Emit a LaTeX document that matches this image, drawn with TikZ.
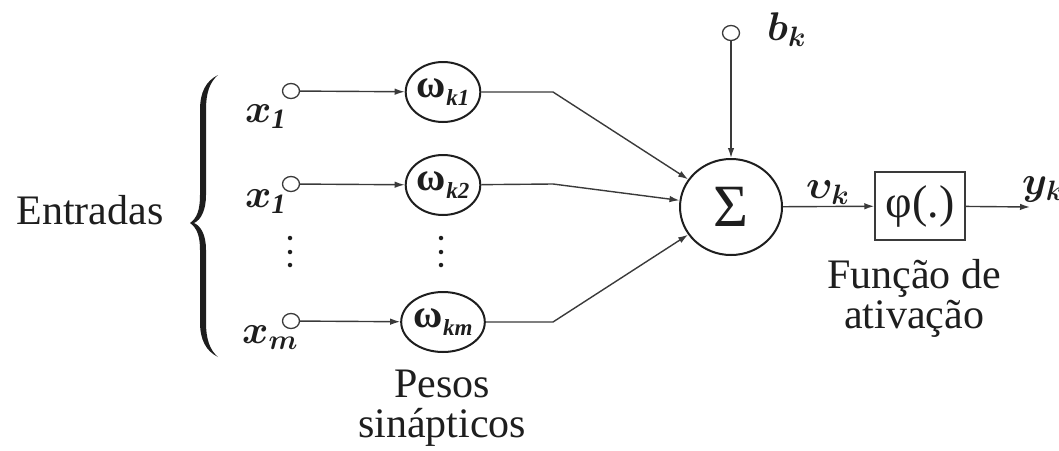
\RequirePackage{fix-cm}
\documentclass[tikz,border=0pt]{standalone}
\usepackage{amsmath}
\usepackage{bm}
\usepackage{fontspec}
\setmainfont{Liberation Serif}
\usetikzlibrary{shapes.geometric,arrows.meta}
\definecolor{ink}{HTML}{1E1E1E}
\definecolor{wire}{HTML}{3A3A3A}
\tikzset{
  wirestyle/.style={draw=wire,line width=1.4pt},
  arr/.style={wirestyle,-{Latex[length=10pt,width=6.5pt]}},
  port/.style={ellipse,draw=wire,line width=1.3pt,fill=white,minimum width=17pt,minimum height=15pt,inner sep=0pt},
  weight/.style={ellipse,draw=ink,line width=2pt,minimum width=70pt,minimum height=60pt,inner sep=0pt,text=ink},
  lbl/.style={text=ink,inner sep=0pt},
  big/.style={lbl,font=\fontsize{42}{40}\selectfont,align=center},
  mathlbl/.style={lbl,font=\fontsize{40}{40}\selectfont},
  dotsstyle/.style={circle,fill=ink,inner sep=0pt,minimum size=4.5pt}
}
\newcommand{\wlab}[1]{{\fontsize{40}{40}\selectfont\bfseries ω}\kern0.5pt\raisebox{-8pt}{\fontsize{23}{23}\selectfont\bfseries\itshape #1}}
\begin{document}
\begin{tikzpicture}[x=1pt,y=-1pt]
\useasboundingbox (0,0) rectangle (1059,450);
% Entradas + brace
\node[big,anchor=base] (ent) at (90,224) {Entradas};
\fill[ink] (218,75) .. controls (206,81) and (200,92) .. (200,110) -- (200,195)
  .. controls (200,210) and (197,218) .. (190,223)
  .. controls (197,228) and (200,236) .. (200,250) -- (200,322)
  .. controls (200,340) and (206,351) .. (218,357)
  .. controls (210,350) and (206,340) .. (206,322) -- (206,250)
  .. controls (206,235) and (201,226) .. (194,223)
  .. controls (201,220) and (206,210) .. (206,195) -- (206,110)
  .. controls (206,92) and (210,82) .. (218,75) -- cycle;
% inputs
\node[port] (in1) at (291,91) {};
\node[port] (in2) at (291,184) {};
\node[port] (inm) at (291,321) {};
\node[mathlbl,anchor=base west] (x1) at (245,122) {$\bm{x}_{\textbf{\textit{1}}}$};
\node[mathlbl,anchor=base west] (x2) at (245,207) {$\bm{x}_{\textbf{\textit{1}}}$};
\node[mathlbl,anchor=base west] (xm) at (242,343) {$\bm{x}_{\bm{m}}$};
\node[dotsstyle] (d1) at (290,238) {};
\node[dotsstyle] (d2) at (290,252) {};
\node[dotsstyle] (d3) at (290,265) {};
% weights
\node[weight] (w1) at (443,92) {\wlab{k1}};
\node[weight] (w2) at (443,185) {\wlab{k2}};
\node[weight] (wm) at (443,322) {\wlab{km}};
\node[dotsstyle] (e1) at (441,238) {};
\node[dotsstyle] (e2) at (441,252) {};
\node[dotsstyle] (e3) at (441,265) {};
\node[big] (pesos) at (442,408) {Pesos\\sinápticos};
\draw[arr] (in1) -- (w1);
\draw[arr] (in2) -- (w2);
\draw[arr] (inm) -- (wm);
% summation
\node[ellipse,draw=ink,line width=2pt,minimum width=102pt,minimum height=96pt,inner sep=0pt,text=ink,font=\fontsize{60}{60}\selectfont] (sum) at (731,207) {Σ};
\coordinate (b1) at (553,92);
\coordinate (b2) at (553,184);
\coordinate (bm) at (553,322);
\draw[arr] (w1) -- (b1) -- (sum);
\draw[arr] (w2) -- (b2) -- (sum);
\draw[arr] (wm) -- (bm) -- (sum);
% bias
\node[port] (bias) at (731,33) {};
\node[mathlbl,anchor=base west] (bk) at (767,40) {$\bm{b}_{\bm{k}}$};
\draw[arr] (bias) -- (sum);
% activation
\node[draw=wire,line width=1.5pt,minimum width=90pt,minimum height=68pt,inner sep=0pt,text=ink,font=\fontsize{46}{46}\selectfont] (phi) at (920,206) {φ(.)};
\draw[arr] (sum) -- (phi);
\node[mathlbl,anchor=base west] (vk) at (806,198) {$\bm{\upsilon}_{\bm{k}}$};
\coordinate (out) at (1030,207);
\draw[arr] (phi) -- (out);
\node[mathlbl,anchor=base west] (yk) at (1022,194) {$\bm{y}_{\bm{k}}$};
\node[big] (func) at (914,298) {Função de\\ativação};
\end{tikzpicture}
\end{document}
